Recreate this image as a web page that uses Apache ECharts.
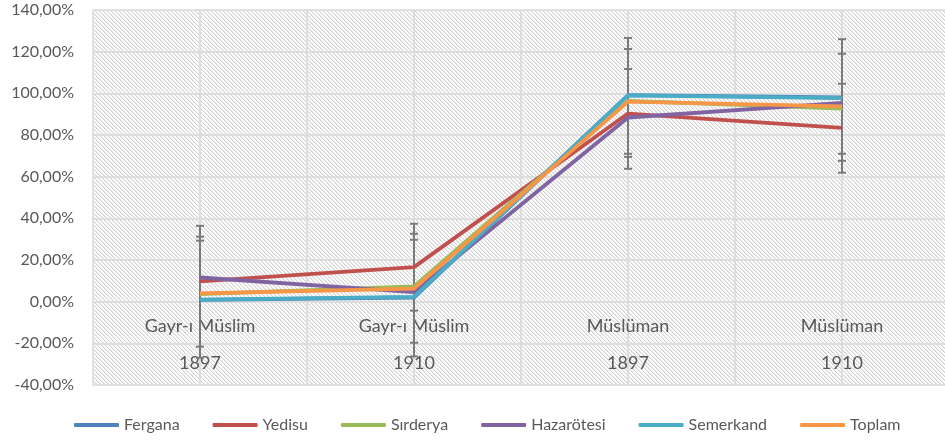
<!DOCTYPE html>
<html>
<head>
<meta charset="utf-8">
<script src="https://cdn.jsdelivr.net/npm/echarts@6/dist/echarts.min.js"></script>
<style>
html,body{margin:0;padding:0;background:#fff;}
#chart{width:945px;height:440px;}
</style>
</head>
<body>
<div id="chart"></div>
<script>
// ---- data ----
const categoryGroups = ['Gayr-ı Müslim', 'Gayr-ı Müslim', 'Müslüman', 'Müslüman'];
const categoryYears = ['1897', '1910', '1897', '1910'];
const seriesNames = ['Fergana', 'Yedisu', 'Sırderya', 'Hazarötesi', 'Semerkand', 'Toplam'];
const fergana    = [0.9, 2.0, 99.1, 98.0];
const yedisu     = [9.7, 16.6, 90.3, 83.4];
const sirderya   = [3.6, 7.3, 96.4, 92.7];
const hazarotesi = [11.6, 4.6, 88.4, 95.4];
const semerkand  = [1.0, 2.3, 99.0, 97.7];
const toplam     = [4.0, 6.3, 96.0, 93.7];
// error bar cap levels (%) per category
const errorCaps = [
  [36.4, 31.2, 29.3, -21.6, -26.9],
  [37.4, 32.6, 29.7, -4.3, -19.7, -26.3],
  [126.6, 121.3, 111.7, 71.0, 69.5, 63.8],
  [126.0, 119.0, 104.6, 71.0, 67.6, 61.9]
];
const yTicks = { min: -40, max: 140, step: 20 };

const seriesValues = [fergana, yedisu, sirderya, hazarotesi, semerkand, toplam];
const colors = ['#4F81BD', '#C0504D', '#9BBB59', '#8064A2', '#4BACC6', '#F79646'];

// hatch pattern
const pc = document.createElement('canvas');
pc.width = 4; pc.height = 4;
const pctx = pc.getContext('2d');
pctx.fillStyle = '#ffffff';
pctx.fillRect(0, 0, 4, 4);
for (let i = 0; i < 4; i++) {
  pctx.fillStyle = '#d4d4d4';
  pctx.fillRect(i, i, 1, 1);
  pctx.fillStyle = '#ececec';
  pctx.fillRect((i + 1) % 4, i, 1, 1);
}

const chart = echarts.init(document.getElementById('chart'), null, { renderer: 'canvas' });
const font = 'Lato, "Open Sans", sans-serif';

const lineSeries = seriesNames.map((name, si) => ({
  name: name,
  type: 'line',
  data: seriesValues[si].map((v, ci) => [ci + 0.5, v]),
  symbol: 'none',
  lineStyle: { width: 3.8, color: colors[si] },
  itemStyle: { color: colors[si] },
  z: 3,
  animation: false
}));

const errSeries = {
  type: 'custom',
  silent: true,
  z: 2,
  animation: false,
  data: errorCaps.map((caps, ci) => [ci + 0.5, Math.min(...caps), Math.max(...caps)]),
  renderItem: function (params, api) {
    const x = api.value(0);
    const lo = api.coord([x, api.value(1)]);
    const hi = api.coord([x, api.value(2)]);
    const caps = errorCaps[params.dataIndex];
    const children = [{
      type: 'line',
      shape: { x1: lo[0], y1: lo[1], x2: hi[0], y2: hi[1] },
      style: { stroke: '#7a7a7a', lineWidth: 2 }
    }];
    caps.forEach(c => {
      const p = api.coord([x, c]);
      children.push({
        type: 'line',
        shape: { x1: p[0] - 4, y1: p[1], x2: p[0] + 4, y2: p[1] },
        style: { stroke: '#7a7a7a', lineWidth: 2 }
      });
    });
    return { type: 'group', children: children };
  }
};

chart.setOption({
  animation: false,
  backgroundColor: '#ffffff',
  color: colors,
  grid: {
    left: 93, right: -4, top: 10, bottom: 55,
    containLabel: false,
    outerBoundsMode: 'none',
    show: true,
    borderWidth: 0,
    backgroundColor: { image: pc, repeat: 'repeat' }
  },
  legend: {
    data: seriesNames,
    bottom: 2,
    left: 69,
    itemWidth: 45,
    itemHeight: 4,
    itemGap: 33,
    icon: 'roundRect',
    textStyle: { fontFamily: font, fontSize: 16, color: '#595959' }
  },
  xAxis: {
    type: 'value',
    position: 'bottom',
    min: 0, max: 4, interval: 0.5,
    axisLine: { show: false, onZero: false },
    axisTick: { show: false },
    splitLine: { show: true, lineStyle: { color: '#d9d9d9', width: 1.5 } },
    axisLabel: {
      show: true,
      inside: true,
      margin: 3,
      fontFamily: font, fontSize: 18, color: '#595959',
      lineHeight: 37,
      verticalAlign: 'bottom',
      showMinLabel: true, showMaxLabel: true,
      formatter: function (v) {
        const idx = Math.round(v - 0.5);
        if (Math.abs(v - (idx + 0.5)) < 1e-6 && idx >= 0 && idx < categoryGroups.length) {
          return categoryGroups[idx] + '\n' + categoryYears[idx];
        }
        return '';
      }
    }
  },
  yAxis: {
    type: 'value',
    min: yTicks.min, max: yTicks.max, interval: yTicks.step,
    axisLine: { show: false },
    axisTick: { show: false },
    splitLine: { show: true, lineStyle: { color: '#d9d9d9', width: 1.5 } },
    axisLabel: {
      margin: 19,
      fontFamily: font, fontSize: 16, color: '#595959',
      formatter: v => v.toFixed(2).replace('.', ',') + '%'
    }
  },
  series: [errSeries].concat(lineSeries)
});
</script>
</body>
</html>
